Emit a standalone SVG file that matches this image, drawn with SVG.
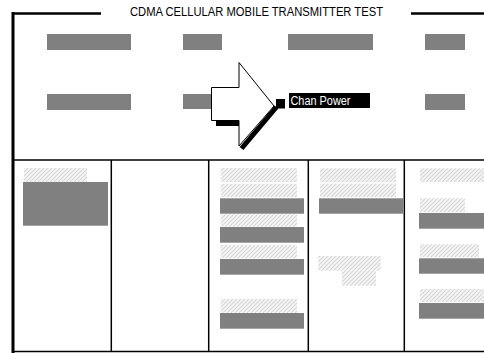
<svg xmlns="http://www.w3.org/2000/svg" width="484" height="353" viewBox="0 0 484 353">
<style>
.g{fill:#808080}
.h{fill:url(#hatch)}
.ln{stroke:#000;fill:none}
text{font-family:"Liberation Sans",Arial,sans-serif}
</style>
<defs>
<pattern id="hatch" patternUnits="userSpaceOnUse" width="4" height="4">
<rect width="4" height="4" fill="#f6f6f6"/>
<path d="M-1,1 L1,-1 M0,4 L4,0 M3,5 L5,3" stroke="#d6d6d6" stroke-width="1.1"/>
</pattern>
</defs>
<rect width="484" height="353" fill="#fff"/>
<g id="frame">
<line class="ln" x1="13" y1="12" x2="13" y2="353" stroke-width="3"/>
<line class="ln" x1="12" y1="13.5" x2="101" y2="13.5" stroke-width="2.5"/>
<line class="ln" x1="411" y1="13.5" x2="484" y2="13.5" stroke-width="2.5"/>
<line class="ln" x1="13" y1="160" x2="484" y2="160" stroke-width="1.5"/>
<line class="ln" x1="13" y1="351.5" x2="484" y2="351.5" stroke-width="1.5"/>
<line class="ln" x1="111.3" y1="160" x2="111.3" y2="352" stroke-width="1.5"/>
<line class="ln" x1="208.7" y1="160" x2="208.7" y2="352" stroke-width="1.5"/>
<line class="ln" x1="308.3" y1="160" x2="308.3" y2="352" stroke-width="1.5"/>
<line class="ln" x1="404.3" y1="160" x2="404.3" y2="352" stroke-width="1.5"/>
</g>
<g id="title">
<text x="256.5" y="16" font-size="12.5" text-anchor="middle" textLength="253" lengthAdjust="spacingAndGlyphs">CDMA CELLULAR MOBILE TRANSMITTER TEST</text>
</g>
<g id="top-fields">
<rect class="g" x="47" y="34" width="84" height="16"/>
<rect class="g" x="183" y="34" width="39" height="16"/>
<rect class="g" x="288" y="34" width="85" height="16"/>
<rect class="g" x="425" y="34" width="40" height="16"/>
<rect class="g" x="47" y="94" width="84" height="16"/>
<rect class="g" x="183" y="94" width="39" height="15"/>
<rect class="g" x="425" y="94" width="40" height="16"/>
</g>
<g id="arrow">
<rect x="216" y="121" width="23" height="5" fill="#000"/>
<line x1="276.5" y1="107" x2="241.5" y2="148.5" stroke="#000" stroke-width="5"/>
<polygon points="211.5,87.5 239,87.5 239,62.5 274,106 239,146 239,120.5 211.5,120.5" fill="#fff" stroke="#000" stroke-width="1"/>
</g>
<g id="chan-power">
<rect x="276" y="99" width="9" height="9.5" fill="#000"/>
<rect x="289" y="93" width="81" height="15" fill="#000"/>
<text x="290.5" y="105" font-size="12.5" fill="#fff" textLength="60" lengthAdjust="spacingAndGlyphs">Chan Power</text>
</g>
<g id="col1">
<rect class="h" x="24" y="168" width="63" height="14"/>
<rect class="g" x="23" y="182" width="85" height="43.7"/>
</g>
<g id="col3">
<rect class="h" x="220.7" y="168" width="76.3" height="14"/>
<rect class="h" x="220.7" y="183.7" width="76.3" height="13.3"/>
<rect class="g" x="220" y="198.3" width="84" height="15.4"/>
<rect class="h" x="220.7" y="214.3" width="76.3" height="12.4"/>
<rect class="g" x="220" y="227" width="84" height="15.7"/>
<rect class="h" x="220.7" y="245" width="76.3" height="13.3"/>
<rect class="g" x="220" y="259" width="84" height="15.7"/>
<rect class="h" x="220.7" y="299" width="76.3" height="13.7"/>
<rect class="g" x="220" y="313" width="84" height="15.7"/>
</g>
<g id="col4">
<rect class="h" x="320" y="168.3" width="76" height="14"/>
<rect class="h" x="320" y="183.7" width="76" height="13.3"/>
<rect class="g" x="319" y="198.3" width="84" height="15.4"/>
<rect class="h" x="318.3" y="256" width="62.4" height="14.7"/>
<rect class="h" x="342" y="270.7" width="34" height="15"/>
</g>
<g id="col5">
<rect class="h" x="420" y="168.3" width="64" height="14"/>
<rect class="h" x="420" y="198.3" width="45" height="14"/>
<rect class="g" x="419" y="213" width="65" height="15.7"/>
<rect class="h" x="420" y="244.3" width="59" height="13"/>
<rect class="g" x="419" y="258.3" width="65" height="15.4"/>
<rect class="h" x="420" y="289" width="64" height="13"/>
<rect class="g" x="419" y="303" width="65" height="15.7"/>
</g>
</svg>
